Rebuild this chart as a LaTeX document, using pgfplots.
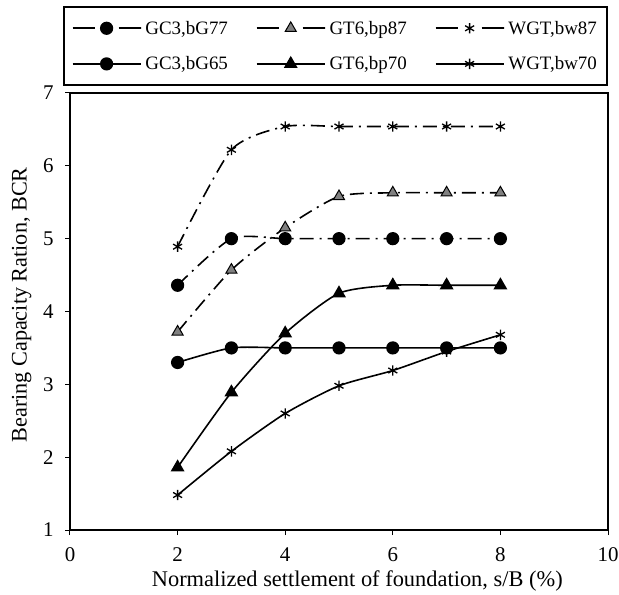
\documentclass[border=0pt]{standalone}
\usepackage{pgfplots}
\pgfplotsset{compat=1.18}
\usepackage{fontspec}
\setmainfont{Liberation Serif}
\begin{document}
\begin{tikzpicture}
\pgfplotsset{
  dashleg/.style={legend image code/.code={
    \draw[##1, solid, dash pattern=on 22bp off 24bp on 22bp off 0bp] (0bp,0bp) -- (68bp,0bp);
    \draw[##1, only marks] plot coordinates {(34bp,0bp)};}},
}
\begin{axis}[
  scale only axis,
  width=538bp, height=437bp,
  xmin=0, xmax=10, ymin=1, ymax=7,
  xtick={0,2,4,6,8,10}, ytick={1,2,3,4,5,6,7},
  tick align=outside, tick pos=left,
  major tick length=5bp,
  axis line style={line width=1.6bp},
  tick style={line width=1bp, black},
  /pgf/number format/assume math mode=true,
  ticklabel style={font=\fontsize{21}{24}\selectfont},
  xticklabel style={anchor=base, inner sep=0pt, yshift=-26bp},
  yticklabel style={xshift=-8bp},
  xlabel={Normalized settlement of foundation, s/B (\%)},
  ylabel={Bearing Capacity Ration, BCR},
  xlabel style={font=\fontsize{22.5}{26}\selectfont, inner sep=0pt, at={(axis description cs:0.534,-0.1304)}, anchor=base},
  ylabel style={font=\fontsize{22.3}{26}\selectfont, at={(axis description cs:-0.090,0.515)}, anchor=center},
  legend columns=3,
  legend style={at={(axis description cs:-0.013,1.016)}, anchor=south west, draw=black, line width=1.6bp,
    font=\fontsize{19}{22}\selectfont,
    /tikz/every even column/.append style={column sep=26bp},
    /tikz/every odd column/.append style={column sep=2bp},
    row sep=17bp, inner xsep=8bp, inner ysep=12bp},
  legend image code/.code={
    \draw[mark repeat=2,mark phase=2,#1] plot coordinates {(0bp,0bp) (34bp,0bp) (68bp,0bp)};},
  every axis plot/.append style={line width=1.6bp, black, smooth, tension=0.4},
  mark size=5.8bp,
]
\addplot[dashleg, dash pattern=on 14bp off 6bp on 2bp off 6bp, mark=*, mark options={solid, fill=black}] coordinates {(2,4.36) (3,5.0) (4,5.0) (5,5.0) (6,5.0) (7,5.0) (8,5.0)};
\addlegendentry{GC3,bG77}
\addplot[dashleg, dash pattern=on 14bp off 6bp on 2bp off 6bp, mark=triangle*, mark options={solid, fill=gray, draw=black, line width=1bp, mark size=6.4bp}] coordinates {(2,3.72) (3,4.57) (4,5.15) (5,5.58) (6,5.63) (7,5.63) (8,5.63)};
\addlegendentry{GT6,bp87}
\addplot[dashleg, dash pattern=on 14bp off 6bp on 2bp off 6bp, mark=asterisk, mark options={solid, line width=1.3bp, mark size=5.2bp}] coordinates {(2,4.89) (3,6.22) (4,6.54) (5,6.54) (6,6.54) (7,6.54) (8,6.54)};
\addlegendentry{WGT,bw87}
\addplot[mark=*, mark options={solid, fill=black}] coordinates {(2,3.30) (3,3.50) (4,3.50) (5,3.50) (6,3.50) (7,3.50) (8,3.50)};
\addlegendentry{GC3,bG65}
\addplot[mark=triangle*, mark options={solid, fill=black, mark size=6.4bp}] coordinates {(2,1.86) (3,2.89) (4,3.70) (5,4.25) (6,4.36) (7,4.36) (8,4.36)};
\addlegendentry{GT6,bp70}
\addplot[mark=asterisk, mark options={solid, line width=1.3bp, mark size=5.2bp}] coordinates {(2,1.48) (3,2.08) (4,2.60) (5,2.98) (6,3.19) (7,3.45) (8,3.68)};
\addlegendentry{WGT,bw70}
\end{axis}
\pgfresetboundingbox
\useasboundingbox ([shift={(-70bp,-65bp)}]current axis.south west) rectangle ([shift={(11bp,93bp)}]current axis.north east);
\end{tikzpicture}
\end{document}
